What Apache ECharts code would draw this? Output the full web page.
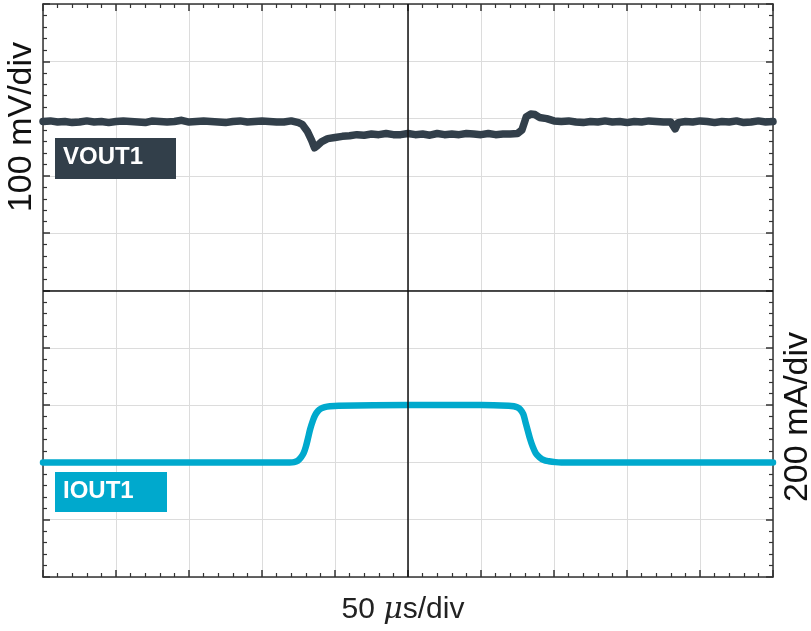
<!DOCTYPE html>
<html>
<head>
<meta charset="utf-8">
<script src="https://cdn.jsdelivr.net/npm/echarts@6/dist/echarts.min.js"></script>
<style>
html,body{margin:0;padding:0;background:#fff;}
#c{width:811px;height:631px;}
</style>
</head>
<body>
<div id="c"></div>
<script>
// time in divisions (50 us/div), level in vertical divisions
const voutTime = [0.0,0.1,0.2,0.3,0.4,0.5,0.6,0.7,0.8,0.9,1.0,1.1,1.2,1.3,1.4,1.5,1.6,1.7,1.8,1.9,2.0,2.1,2.2,2.3,2.4,2.5,2.6,2.7,2.8,2.9,3.0,3.1,3.2,3.3,3.4,3.5,3.55,3.62,3.68,3.72,3.76,3.82,3.9,4.0,4.1,4.2,4.3,4.4,4.5,4.6,4.7,4.8,4.9,5.0,5.1,5.2,5.3,5.4,5.5,5.6,5.7,5.8,5.9,6.0,6.1,6.2,6.3,6.4,6.5,6.56,6.62,6.68,6.74,6.8,6.9,7.0,7.1,7.2,7.3,7.4,7.5,7.6,7.7,7.8,7.9,8.0,8.1,8.2,8.3,8.4,8.5,8.6,8.66,8.7,8.8,8.9,9.0,9.1,9.2,9.3,9.4,9.5,9.6,9.7,9.8,9.9,10.0];
const voutLevel = [7.95,7.96,7.94,7.95,7.93,7.94,7.96,7.94,7.95,7.93,7.95,7.96,7.95,7.94,7.93,7.96,7.95,7.94,7.95,7.97,7.94,7.95,7.96,7.95,7.94,7.93,7.95,7.96,7.94,7.95,7.96,7.95,7.94,7.94,7.96,7.93,7.90,7.78,7.62,7.49,7.53,7.60,7.65,7.67,7.69,7.70,7.72,7.71,7.73,7.72,7.74,7.72,7.72,7.74,7.72,7.73,7.71,7.74,7.72,7.73,7.72,7.74,7.73,7.72,7.74,7.72,7.73,7.73,7.74,7.80,8.03,8.08,8.07,8.02,8.00,7.96,7.95,7.96,7.94,7.93,7.95,7.94,7.96,7.94,7.95,7.93,7.95,7.94,7.96,7.95,7.94,7.94,7.82,7.93,7.95,7.94,7.96,7.95,7.93,7.95,7.94,7.96,7.93,7.94,7.96,7.94,7.95];
const ioutTime = [0.0,1.0,2.0,3.0,3.38,3.44,3.49,3.53,3.57,3.60,3.63,3.66,3.70,3.73,3.77,3.81,3.86,3.93,4.05,5.0,6.0,6.38,6.45,6.50,6.54,6.58,6.61,6.64,6.67,6.71,6.75,6.80,6.86,6.93,7.02,7.1,8.0,9.0,10.0];
const ioutLevel = [2.0,2.0,2.0,2.0,2.0,2.005,2.03,2.08,2.16,2.27,2.42,2.58,2.74,2.83,2.90,2.94,2.965,2.98,2.99,3.0,3.0,2.99,2.98,2.96,2.92,2.84,2.70,2.56,2.42,2.27,2.16,2.09,2.04,2.02,2.005,2.0,2.0,2.0,2.0];
const xTicks = [0,1,2,3,4,5,6,7,8,9,10];
const yTicks = [0,1,2,3,4,5,6,7,8,9,10];
const labels = { vout: 'VOUT1', iout: 'IOUT1', left: '100 mV/div', right: '200 mA/div' };

const voutData = voutTime.map((t, i) => [t, voutLevel[i]]);
const ioutData = ioutTime.map((t, i) => [t, ioutLevel[i]]);

const chart = echarts.init(document.getElementById('c'), null, { renderer: 'canvas' });

const axisCommon = (pos, split, ticks) => ({
  type: 'value', position: pos,
  min: ticks[0], max: ticks[ticks.length - 1], interval: 1,
  axisLine: { show: true, onZero: false, lineStyle: { color: '#333', width: 1.5 } },
  axisTick: { show: true, inside: true, length: 7, lineStyle: { color: '#333', width: 1.5 } },
  minorTick: { show: true, splitNumber: 5, length: 4, lineStyle: { color: '#333', width: 1.2 } },
  axisLabel: { show: false },
  splitLine: { show: split, lineStyle: { color: '#dcdcdc', width: 1 } }
});

const font = 'Liberation Sans, Arial, sans-serif';

chart.setOption({
  animation: false,
  grid: { left: 43, top: 4, right: 38, bottom: 54 },
  xAxis: [axisCommon('bottom', true, xTicks), axisCommon('top', false, xTicks)],
  yAxis: [axisCommon('left', true, yTicks), axisCommon('right', false, yTicks)],
  series: [
    {
      type: 'line', name: 'center', data: [], z: 1, silent: true,
      markLine: {
        silent: true, symbol: ['none', 'none'], animation: false,
        label: { show: false },
        lineStyle: { color: '#111', width: 1.5, type: 'solid' },
        data: [{ xAxis: 5 }, { yAxis: 5 }]
      }
    },
    {
      type: 'line', name: labels.vout, data: voutData, showSymbol: false, z: 3,
      lineStyle: { color: '#323f4a', width: 7.5, cap: 'round', join: 'round' }
    },
    {
      type: 'line', name: labels.iout, data: ioutData, showSymbol: false, z: 3,
      smooth: 0.3,
      lineStyle: { color: '#00a9cd', width: 6.5, cap: 'round', join: 'round' }
    }
  ],
  graphic: [
    { type: 'rect', z: 100, left: 55, top: 138, shape: { width: 121, height: 41 }, style: { fill: '#323f4a' } },
    { type: 'text', z: 101, left: 63, top: 145, style: { text: labels.vout, fill: '#fff', font: 'bold 24px ' + font } },
    { type: 'rect', z: 100, left: 55, top: 472, shape: { width: 112, height: 40 }, style: { fill: '#00a9cd' } },
    { type: 'text', z: 101, left: 63, top: 479, style: { text: labels.iout, fill: '#fff', font: 'bold 24px ' + font } },
    { type: 'text', z: 101, x: 22, y: 127, rotation: Math.PI / 2,
      style: { text: labels.left, fill: '#111', font: '34px ' + font, textAlign: 'center', textVerticalAlign: 'middle' } },
    { type: 'text', z: 101, x: 798, y: 417, rotation: Math.PI / 2,
      style: { text: labels.right, fill: '#111', font: '34px ' + font, textAlign: 'center', textVerticalAlign: 'middle' } },
    { type: 'text', z: 101, x: 403, y: 610,
      style: {
        text: '{a|50 }{m|μ}{a|s/div}', textAlign: 'center', textVerticalAlign: 'middle',
        rich: {
          a: { fontSize: 30, fontFamily: font, fill: '#222', color: '#222' },
          m: { fontSize: 30, fontFamily: 'DejaVu Serif, serif', fontStyle: 'italic', fill: '#222', color: '#222' }
        }
      } }
  ]
});
</script>
</body>
</html>
